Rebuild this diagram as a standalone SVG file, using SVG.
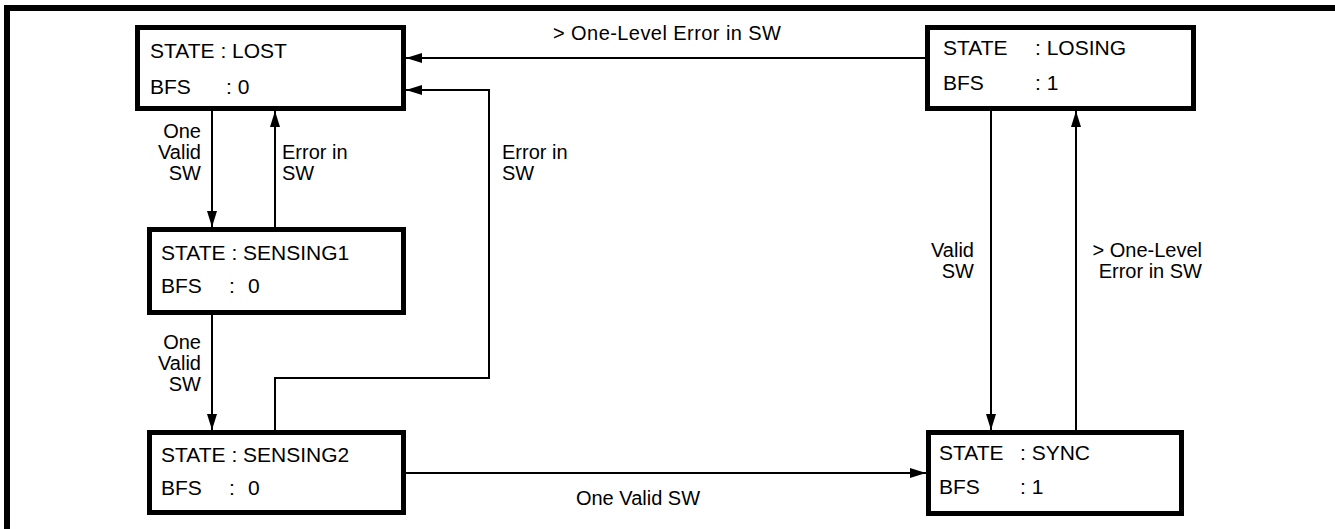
<svg xmlns="http://www.w3.org/2000/svg" width="1335" height="529" viewBox="0 0 1335 529">
<defs>
<style>
text{font-family:"Liberation Sans",Arial,sans-serif;font-size:21px;fill:#000}
.lbl{font-size:20px}
.box{fill:#fff;stroke:#000;stroke-width:5}
.ln{fill:none;stroke:#000;stroke-width:2;marker-end:url(#ah)}
.end{text-anchor:end}
.mid{text-anchor:middle}
</style>
<marker id="ah" markerUnits="userSpaceOnUse" markerWidth="17" markerHeight="11" refX="16" refY="5" orient="auto">
<path d="M0,0 L16,5 L0,10 z" fill="#000"/>
</marker>
</defs>
<rect width="1335" height="529" fill="#fff"/>
<g id="frame">
<line x1="4" y1="8" x2="1335" y2="8" stroke="#000" stroke-width="6"/>
<line x1="7" y1="5" x2="7" y2="529" stroke="#000" stroke-width="6"/>
</g>
<g id="connectors">
<path class="ln" d="M212,111 V227"/>
<path class="ln" d="M275,227 V111"/>
<path class="ln" d="M212,315 V430"/>
<path class="ln" d="M275,430 V378 H489 V90 H406"/>
<path class="ln" d="M406,473 H926"/>
<path class="ln" d="M925,58 H406"/>
<path class="ln" d="M991,111 V430"/>
<path class="ln" d="M1076,430 V111"/>
<text class="lbl end"><tspan x="201" y="138">One</tspan><tspan x="201" y="159">Valid</tspan><tspan x="201" y="180">SW</tspan></text>
<text class="lbl"><tspan x="282" y="159">Error in</tspan><tspan x="282" y="180">SW</tspan></text>
<text class="lbl"><tspan x="502" y="159">Error in</tspan><tspan x="502" y="180">SW</tspan></text>
<text class="lbl end"><tspan x="201" y="349">One</tspan><tspan x="201" y="370">Valid</tspan><tspan x="201" y="391">SW</tspan></text>
<text class="lbl" x="553" y="40" textLength="228">&gt; One-Level Error in SW</text>
<text class="lbl mid" x="638" y="505">One Valid SW</text>
<text class="lbl end"><tspan x="974" y="257">Valid</tspan><tspan x="974" y="278">SW</tspan></text>
<text class="lbl end"><tspan x="1202" y="257">&gt; One-Level</tspan><tspan x="1202" y="278">Error in SW</tspan></text>
</g>
<g id="lost">
<rect class="box" x="137.5" y="27.5" width="266" height="81"/>
<text x="150" y="58">STATE : LOST</text>
<text x="150" y="94">BFS<tspan x="226">: 0</tspan></text>
</g>
<g id="sensing1">
<rect class="box" x="149.5" y="229.5" width="254" height="83"/>
<text x="161" y="260">STATE : SENSING1</text>
<text x="161" y="293">BFS<tspan x="229">:</tspan><tspan x="248">0</tspan></text>
</g>
<g id="sensing2">
<rect class="box" x="149.5" y="432.5" width="254" height="80"/>
<text x="161" y="462">STATE : SENSING2</text>
<text x="161" y="495">BFS<tspan x="229">:</tspan><tspan x="248">0</tspan></text>
</g>
<g id="losing">
<rect class="box" x="927.5" y="27.5" width="266" height="81"/>
<text x="943" y="55">STATE<tspan x="1035">: LOSING</tspan></text>
<text x="943" y="90">BFS<tspan x="1035">: 1</tspan></text>
</g>
<g id="sync">
<rect class="box" x="928.5" y="432.5" width="253" height="81"/>
<text x="939" y="460">STATE<tspan x="1020">: SYNC</tspan></text>
<text x="939" y="494">BFS<tspan x="1020">: 1</tspan></text>
</g>
</svg>
